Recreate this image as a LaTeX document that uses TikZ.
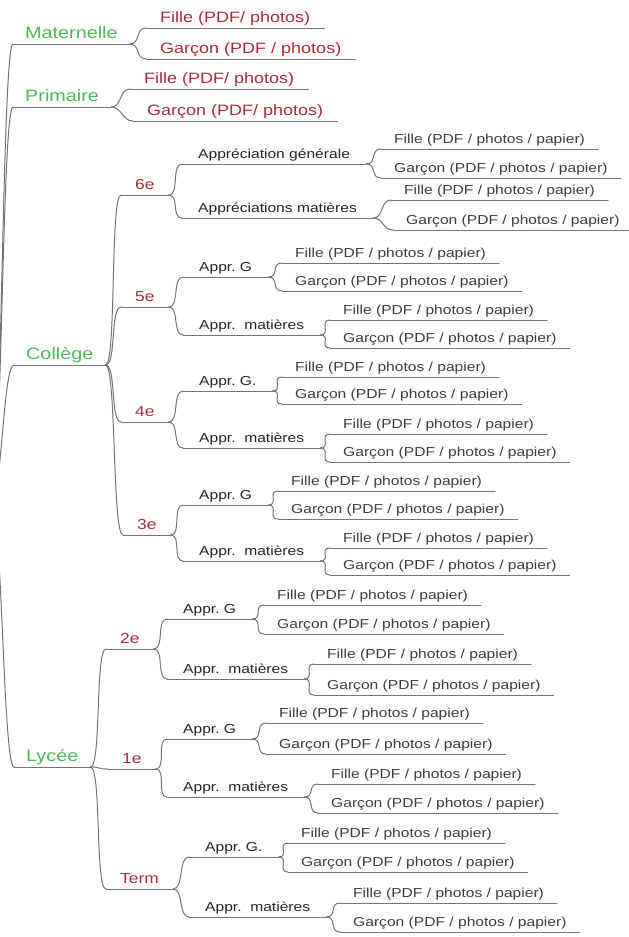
\documentclass[tikz,border=0pt]{standalone}
\usepackage{fontspec}
\setmainfont{Liberation Sans}[FakeStretch=1.2]
\frenchspacing

\definecolor{lvlgreen}{RGB}{76,186,88}
\definecolor{clsred}{RGB}{168,44,56}
\definecolor{apprblack}{RGB}{35,35,35}
\definecolor{leafgray}{RGB}{60,60,60}
\definecolor{linegray}{RGB}{115,115,115}

\begin{document}
\begin{tikzpicture}[
    x=1pt, y=-1pt,
    line/.style={draw=linegray, line width=1pt, line cap=round},
    branch/.style={to path={.. controls ([xshift=11pt]\tikztostart) and ([xshift=-11pt]\tikztotarget) .. (\tikztotarget)}},
    topic/.style={anchor=south west, inner ysep=2.5pt, text height=0.75em, text depth=0.25em,
        append after command={(\tikzlastnode.south west) edge[line] (\tikzlastnode.south east)}},
    level/.style={topic, inner xsep=12pt, font=\fontsize{16.5}{18}\selectfont, text=lvlgreen},
    photo/.style={topic, inner xsep=14pt, font=\fontsize{15}{17}\selectfont, text=clsred},
    classe/.style={topic, inner xsep=14pt, font=\fontsize{14.5}{16}\selectfont, text=clsred},
    appr/.style={topic, inner xsep=16pt, font=\fontsize{13}{15}\selectfont, text=apprblack},
    leaf/.style={topic, inner xsep=13pt, font=\fontsize{13}{15}\selectfont, text=leafgray}
]
\clip (0,0) rectangle (629,937);

% Levels
\coordinate (root) at (-9,500);
\node[level] (mat) at (13,44) {Maternelle};
\node[level] (pri) at (13,107) {Primaire};
\node[level] (col) at (14,365) {Collège};
\node[level] (lyc) at (14,767) {Lycée};

% Maternelle / Primaire
\node[photo] (matF) at (146,28) {Fille (PDF/ photos)};
\node[photo] (matG) at (146,59) {Garçon (PDF / photos)};
\node[photo] (priF) at (130,89) {Fille (PDF/ photos)};
\node[photo] (priG) at (133,121) {Garçon (PDF/ photos)};

% Classes
\node[classe] (c6) at (121,195) {6e};
\node[classe] (c5) at (121,307) {5e};
\node[classe] (c4) at (121,422) {4e};
\node[classe] (c3) at (123,535) {3e};
\node[classe] (l2) at (106,649) {2e};
\node[classe] (l1) at (108,769) {1e};
\node[classe] (lT) at (106,889) {Term};

% Appreciations
\node[appr] (c6g) at (182,164) {Appréciation générale};
\node[appr] (c6m) at (182,218) {Appréciations matières};
\node[appr] (c5g) at (183,277) {Appr. G};
\node[appr] (c5m) at (183,335) {Appr.\ \ matières};
\node[appr] (c4g) at (183,391) {Appr. G.};
\node[appr] (c4m) at (183,448) {Appr.\ \ matières};
\node[appr] (c3g) at (183,505) {Appr. G};
\node[appr] (c3m) at (183,561) {Appr.\ \ matières};
\node[appr] (l2g) at (167,619) {Appr. G};
\node[appr] (l2m) at (167,679) {Appr.\ \ matières};
\node[appr] (l1g) at (167,739) {Appr. G};
\node[appr] (l1m) at (167,797) {Appr.\ \ matières};
\node[appr] (lTg) at (189,857) {Appr. G.};
\node[appr] (lTm) at (189,917) {Appr.\ \ matières};

% Fille / Garcon
\node[leaf] (c6gF) at (381,149) {Fille (PDF / photos / papier)};
\node[leaf] (c6gG) at (381,178) {Garçon (PDF / photos / papier)};
\node[leaf] (c6mF) at (391,200) {Fille (PDF / photos / papier)};
\node[leaf] (c6mG) at (393,230) {Garçon (PDF / photos / papier)};
\node[leaf] (c5gF) at (282,263) {Fille (PDF / photos / papier)};
\node[leaf] (c5gG) at (282,291) {Garçon (PDF / photos / papier)};
\node[leaf] (c5mF) at (330,320) {Fille (PDF / photos / papier)};
\node[leaf] (c5mG) at (330,348) {Garçon (PDF / photos / papier)};
\node[leaf] (c4gF) at (282,377) {Fille (PDF / photos / papier)};
\node[leaf] (c4gG) at (282,404) {Garçon (PDF / photos / papier)};
\node[leaf] (c4mF) at (330,434) {Fille (PDF / photos / papier)};
\node[leaf] (c4mG) at (330,462) {Garçon (PDF / photos / papier)};
\node[leaf] (c3gF) at (278,491) {Fille (PDF / photos / papier)};
\node[leaf] (c3gG) at (278,519) {Garçon (PDF / photos / papier)};
\node[leaf] (c3mF) at (330,548) {Fille (PDF / photos / papier)};
\node[leaf] (c3mG) at (330,575) {Garçon (PDF / photos / papier)};
\node[leaf] (l2gF) at (264,605) {Fille (PDF / photos / papier)};
\node[leaf] (l2gG) at (264,634) {Garçon (PDF / photos / papier)};
\node[leaf] (l2mF) at (314,664) {Fille (PDF / photos / papier)};
\node[leaf] (l2mG) at (314,695) {Garçon (PDF / photos / papier)};
\node[leaf] (l1gF) at (266,723) {Fille (PDF / photos / papier)};
\node[leaf] (l1gG) at (266,754) {Garçon (PDF / photos / papier)};
\node[leaf] (l1mF) at (318,784) {Fille (PDF / photos / papier)};
\node[leaf] (l1mG) at (318,813) {Garçon (PDF / photos / papier)};
\node[leaf] (lTgF) at (288,843) {Fille (PDF / photos / papier)};
\node[leaf] (lTgG) at (288,872) {Garçon (PDF / photos / papier)};
\node[leaf] (lTmF) at (340,903) {Fille (PDF / photos / papier)};
\node[leaf] (lTmG) at (340,932) {Garçon (PDF / photos / papier)};

% Branches
\foreach \c in {mat,pri,col,lyc}
    \draw[line] (root) to[branch] (\c.south west);
\foreach \c in {mat,pri}
    \foreach \f in {F,G}
        \draw[line] (\c.south east) to[branch] (\c\f.south west);
\foreach \p/\c in {col/c6,col/c5,col/c4,col/c3,lyc/l2,lyc/l1,lyc/lT} {
    \draw[line] (\p.south east) to[branch] (\c.south west);
    \foreach \a in {g,m} {
        \draw[line] (\c.south east) to[branch] (\c\a.south west);
        \foreach \f in {F,G}
            \draw[line] (\c\a.south east) to[branch] (\c\a\f.south west);
    }
}

\end{tikzpicture}
\end{document}
